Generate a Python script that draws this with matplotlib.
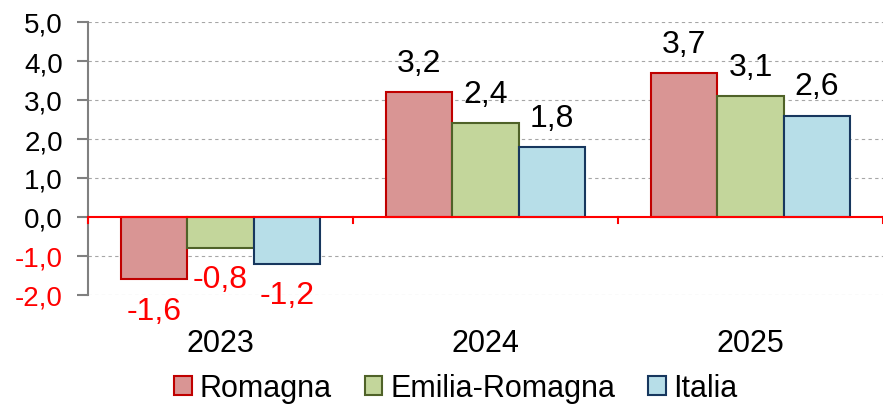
import matplotlib
matplotlib.use("Agg")
import matplotlib.pyplot as plt
import numpy as np

categories = ["2023", "2024", "2025"]
series_names = ["Romagna", "Emilia-Romagna", "Italia"]
romagna = [-1.6, 3.2, 3.7]
emilia = [-0.8, 2.4, 3.1]
italia = [-1.2, 1.8, 2.6]
yticks = [-2.0, -1.0, 0.0, 1.0, 2.0, 3.0, 4.0, 5.0]

fills = ["#D99594", "#C3D69B", "#B7DEE8"]
edges = ["#C00000", "#4F6228", "#17375E"]

plt.rcParams['font.family'] = ['Liberation Sans', 'DejaVu Sans']

fig = plt.figure(figsize=(8.83, 4.06), dpi=100)
ax = fig.add_axes([88/883, 1-296/406, (883-88)/883, (296-23)/406])

x = np.arange(len(categories))
w = 0.25
values = [romagna, emilia, italia]
for i, (vals, fc, ec, name) in enumerate(zip(values, fills, edges, series_names)):
    pos = x + (i - 1) * w
    ax.bar(pos, vals, width=w, color=fc, edgecolor=ec, linewidth=1.5, label=name, zorder=3)
    for px, v in zip(pos, vals):
        txt = f"{v:.1f}".replace(".", ",")
        if v >= 0:
            ax.annotate(txt, (px, v), xytext=(0, 21), textcoords="offset points",
                        ha="center", va="center", fontsize=23, color="black")
        else:
            ax.annotate(txt, (px, v), xytext=(0, -22.5), textcoords="offset points",
                        ha="center", va="center", fontsize=23, color="red")

ax.set_xlim(-0.5, 2.5)
ax.set_ylim(-2.0, 5.0)
ax.set_yticks(yticks)
ax.set_yticklabels([f"{t:.1f}".replace(".", ",") for t in yticks], fontsize=20)
for lab, t in zip(ax.get_yticklabels(), yticks):
    lab.set_color("red" if t < 0 else "black")

for t in yticks:
    if t != 0:
        ax.axhline(t, color="#A6A6A6", linestyle=(0, (3, 3)), linewidth=0.8, zorder=1)
ax.axhline(0, color="red", linewidth=1.5, zorder=4)

# category separator ticks at zero line
for b in [-0.5, 0.5, 1.5, 2.5]:
    ax.plot([b, b], [0, -0.15], color="red", linewidth=1.5, zorder=4, clip_on=False)

ax.set_xticks(x)
ax.set_xticklabels(categories, fontsize=22)
ax.tick_params(axis="x", length=0, pad=24)
ax.tick_params(axis="y", length=8, width=1.5, color="#808080", pad=10)

for s in ["top", "right", "bottom"]:
    ax.spines[s].set_visible(False)
ax.spines["left"].set_color("#808080")
ax.spines["left"].set_linewidth(1.5)

leg = fig.legend(loc="center", bbox_to_anchor=(456/883, 1-389/406), ncol=3, frameon=False,
                 fontsize=22, handlelength=0.57, handleheight=0.57, handletextpad=0.26,
                 columnspacing=1.08, borderpad=0, borderaxespad=0)

fig.savefig("out.png", dpi=100)
